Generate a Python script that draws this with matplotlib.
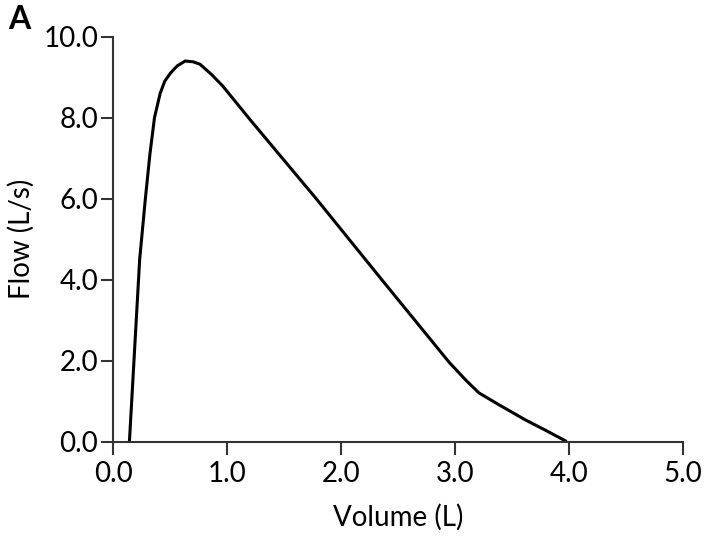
import matplotlib
matplotlib.use("Agg")
import matplotlib.pyplot as plt

# -----------------------------
# DATA (read off the flow-volume loop)
# -----------------------------
volume = [0.14, 0.19, 0.23, 0.28, 0.32, 0.36, 0.41, 0.45, 0.50, 0.56, 0.63,
          0.70, 0.76, 0.86, 0.96, 1.20, 1.78, 2.37, 2.95, 3.10, 3.21, 3.30,
          3.39, 3.62, 3.80, 3.98]
flow = [0.0, 2.5, 4.5, 6.0, 7.1, 8.0, 8.6, 8.9, 9.1, 9.28, 9.4,
        9.38, 9.32, 9.07, 8.78, 7.95, 6.0, 3.95, 1.95, 1.5, 1.2, 1.05,
        0.9, 0.53, 0.27, 0.0]

x_ticks = [0, 1, 2, 3, 4, 5]
y_ticks = [0, 2, 4, 6, 8, 10]

# -----------------------------
# PLOT
# -----------------------------
plt.rcParams['font.family'] = ['Lato', 'DejaVu Sans']
spine_col = '#333333'

fig = plt.figure(figsize=(7.21, 5.4), dpi=100)
ax = fig.add_axes([0.1574, 0.1824, 0.7896, 0.7496])

ax.plot(volume, flow, color='black', linewidth=2.2, solid_capstyle='butt')

ax.set_xlim(0, 5)
ax.set_ylim(0, 10)
ax.set_xticks(x_ticks)
ax.set_yticks(y_ticks)
ax.set_xticklabels([f"{v:.1f}" for v in x_ticks])
ax.set_yticklabels([f"{v:.1f}" for v in y_ticks])

for side in ['top', 'right']:
    ax.spines[side].set_visible(False)
for side in ['left', 'bottom']:
    ax.spines[side].set_color(spine_col)
    ax.spines[side].set_linewidth(1.5)

ax.tick_params(axis='both', direction='out', length=9, width=1.5,
               color=spine_col, labelsize=20)
ax.tick_params(axis='x', pad=5)
ax.tick_params(axis='y', pad=2)

ax.set_xlabel('Volume (L)', fontsize=20, labelpad=12)
ax.set_ylabel('Flow (L/s)', fontsize=20, labelpad=6)

fig.text(0.012, 0.99, 'A', fontsize=23, fontweight='bold', va='top', ha='left')

fig.savefig('out.png', dpi=100)
